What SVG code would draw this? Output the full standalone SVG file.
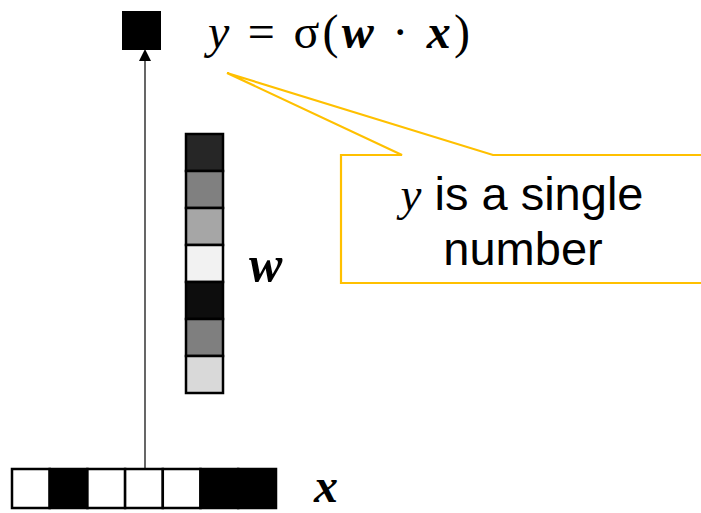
<svg xmlns="http://www.w3.org/2000/svg" width="701" height="513" viewBox="0 0 701 513">
<style>
.cell{stroke:#000;stroke-width:2.5}
.math{font-family:"Liberation Serif",serif;font-size:48px;fill:#000}
.bi{font-style:italic;font-weight:bold}
.it{font-style:italic}
.lbl{font-family:"Liberation Sans",Arial,sans-serif;font-size:47px;fill:#000}
</style>
<rect width="701" height="513" fill="#fff"/>
<g id="connectors">
<line x1="145" y1="469" x2="145" y2="60" stroke="#000" stroke-width="1.2"/>
<path d="M139,61 L145,49 L151,61 Z" fill="#000"/>
</g>
<g id="output">
<rect x="122" y="11" width="39" height="39" fill="#000"/>
<text class="math" x="208" y="48" textLength="262" lengthAdjust="spacing"><tspan class="it">y</tspan> = σ(<tspan class="bi">w</tspan> · <tspan class="bi">x</tspan>)</text>
</g>
<g id="weights">
<rect class="cell" x="186" y="134" width="37" height="37" fill="#262626"/>
<rect class="cell" x="186" y="171" width="37" height="37" fill="#808080"/>
<rect class="cell" x="186" y="208" width="37" height="37" fill="#A6A6A6"/>
<rect class="cell" x="186" y="245" width="37" height="37" fill="#F2F2F2"/>
<rect class="cell" x="186" y="282" width="37" height="37" fill="#0D0D0D"/>
<rect class="cell" x="186" y="319" width="37" height="37" fill="#7F7F7F"/>
<rect class="cell" x="186" y="356" width="37" height="37" fill="#D9D9D9"/>
<text class="math bi" x="249" y="281" style="font-size:50px">w</text>
</g>
<g id="input">
<rect class="cell" x="12" y="469" width="37.7" height="39" fill="#fff"/>
<rect class="cell" x="49.7" y="469" width="37.7" height="39" fill="#000"/>
<rect class="cell" x="87.4" y="469" width="37.7" height="39" fill="#fff"/>
<rect class="cell" x="125.1" y="469" width="37.7" height="39" fill="#fff"/>
<rect class="cell" x="162.8" y="469" width="37.7" height="39" fill="#fff"/>
<rect class="cell" x="200.5" y="469" width="37.7" height="39" fill="#000"/>
<rect class="cell" x="238.2" y="469" width="37.8" height="39" fill="#000"/>
<text class="math bi" x="314" y="502" style="font-size:48px">x</text>
</g>
<g id="callout">
<path d="M341,155 L402,155 L227,73 L493,155 L710,155 L710,283 L341,283 Z" fill="#fff" stroke="#FFC000" stroke-width="2.2" stroke-linejoin="miter"/>
<text class="lbl" x="522" y="210" text-anchor="middle"><tspan style="font-family:'Liberation Serif',serif;font-style:italic">y</tspan> is a single</text>
<text class="lbl" x="523" y="265" text-anchor="middle">number</text>
</g>
</svg>
